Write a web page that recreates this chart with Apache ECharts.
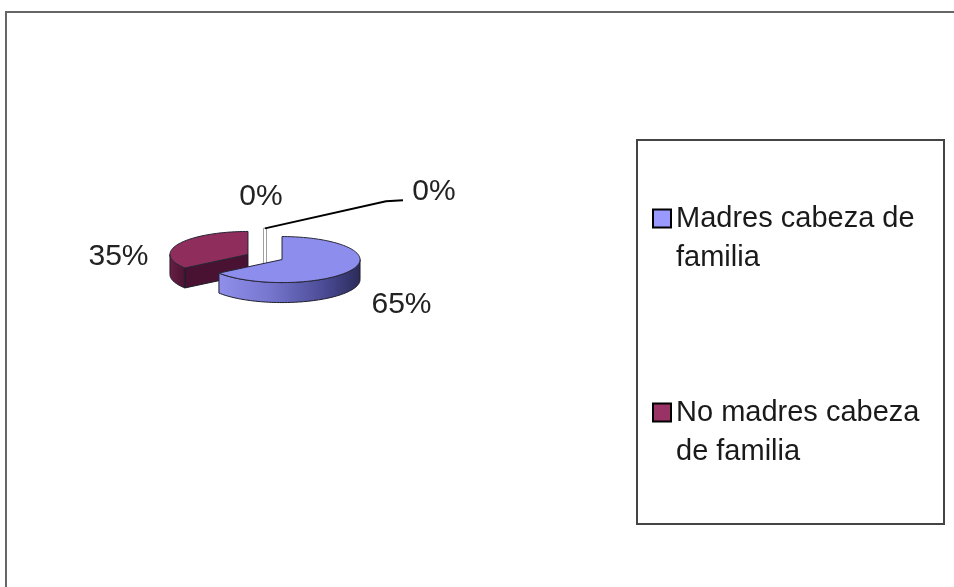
<!DOCTYPE html>
<html>
<head>
<meta charset="utf-8">
<style>
  html, body { margin: 0; padding: 0; background: #fff; }
  #chart { width: 954px; height: 587px; }
</style>
<script src="https://cdn.jsdelivr.net/npm/echarts@6/dist/echarts.min.js"></script>
</head>
<body>
<div id="chart"></div>
<script>
// datos del grafico
var categories = ['Madres cabeza de familia', 'No madres cabeza de familia', '', ''];
var values = [65, 35, 0, 0];
var labels = ['65%', '35%', '0%', '0%'];
var legendNames = ['Madres cabeza de familia', 'No madres cabeza de familia'];

// estilos
var topColors = ['#8d8dee', '#8f2d5c', '#ffffff', '#ffffff'];
var legendColors = ['#9999ff', '#993366', '#ffffff', '#ffffff'];
var sideColors = [
    ['#9090ec', '#7777d0', '#4a4a94', '#2b2b5a'],
    ['#6a1f46', '#5e1a3d', '#521636', '#4a1232']
];
var cutColors = ['#3a3a7a', '#4a1232'];

// geometria de la torta 3D (pie explotado)
var pie = { cx: 265, cy: 257, rx: 78, ry: 23, depth: 20, explode: 0.245 };
// ajuste de las etiquetas respecto al borde de cada porcion
var labelNudge = [[50, 15], [-60, 13], [-4, -32], [169, -37]];
var withLeader = [false, false, false, true];
var fontFamily = '"Liberation Sans", Arial, sans-serif';

var total = values.reduce(function (s, v) { return s + v; }, 0);
var starts = [];
(function () {
    var a = Math.PI / 2;   // Excel empieza a las 12 en punto, sentido horario
    for (var i = 0; i < values.length; i++) {
        starts.push(a);
        a -= values[i] / total * Math.PI * 2;
    }
})();

function frontRanges(lo, hi) {
    var out = [];
    for (var k = -2; k <= 1; k++) {
        var s = Math.max(lo, -Math.PI + 2 * Math.PI * k);
        var e = Math.min(hi, 2 * Math.PI * k);
        if (e > s) out.push([s, e]);
    }
    return out;
}

function makeRender(i) {
    return function (params, api) {
        var value = api.value(0);
        var a0 = starts[i];
        var a1 = a0 - value / total * Math.PI * 2;
        var m = (a0 + a1) / 2;
        var cx = pie.cx + pie.explode * pie.rx * Math.cos(m);
        var cy = pie.cy - pie.explode * pie.ry * Math.sin(m);
        var d = pie.depth;

        function rim(a, down) {
            return [cx + pie.rx * Math.cos(a), cy - pie.ry * Math.sin(a) + (down || 0)];
        }
        function arc(from, to, down) {
            var n = Math.max(2, Math.ceil(Math.abs(from - to) / (Math.PI / 90)));
            var pts = [];
            for (var k = 0; k <= n; k++) pts.push(rim(from + (to - from) * k / n, down));
            return pts;
        }

        var children = [];
        if (value > 0) {
            // caras de corte visibles
            [[a0, Math.cos(a0) < 0], [a1, Math.cos(a1) > 0]].forEach(function (e) {
                if (!e[1]) return;
                var p = rim(e[0]);
                children.push({
                    type: 'polygon',
                    shape: { points: [[cx, cy], p, [p[0], p[1] + d], [cx, cy + d]] },
                    style: { fill: cutColors[i], stroke: '#1e1e2a', lineWidth: 1 }
                });
            });
            // pared lateral (solo la mitad de adelante)
            frontRanges(a1, a0).forEach(function (r) {
                var up = arc(r[0], r[1], 0);
                var down = arc(r[1], r[0], d);
                var st = sideColors[i];
                children.push({
                    type: 'polygon',
                    shape: { points: up.concat(down) },
                    style: {
                        fill: new echarts.graphic.LinearGradient(0, 0, 1, 0, [
                            { offset: 0, color: st[0] },
                            { offset: 0.35, color: st[1] },
                            { offset: 0.75, color: st[2] },
                            { offset: 1, color: st[3] }
                        ]),
                        stroke: '#1e1e2a', lineWidth: 1
                    }
                });
            });
            // cara superior
            children.push({
                type: 'polygon',
                shape: { points: [[cx, cy]].concat(arc(a0, a1, 0)) },
                style: { fill: topColors[i], stroke: '#262636', lineWidth: 1 }
            });
        } else {
            // porcion de 0%: solo se ve la cara de corte
            var t = rim(a0);
            children.push({
                type: 'rect',
                shape: { x: t[0] - 1.5, y: t[1], width: 3, height: cy + d - t[1] },
                style: { fill: '#ffffff', stroke: '#a0a0a0', lineWidth: 1 }
            });
        }

        // etiqueta
        var anchor = rim(m, Math.sin(m) < 0 ? d : 0);
        var lx = anchor[0] + labelNudge[i][0];
        var ly = anchor[1] + labelNudge[i][1];
        if (withLeader[i]) {
            var s0 = rim(m);
            children.push({
                type: 'polyline',
                shape: { points: [s0, [lx - 48, ly + 10], [lx - 31, ly + 9]] },
                style: { stroke: '#000', lineWidth: 2, fill: null }
            });
        }
        children.push({
            type: 'text',
            style: {
                text: labels[i], x: lx, y: ly,
                fill: '#222', font: '30px ' + fontFamily,
                align: 'center', verticalAlign: 'middle'
            }
        });
        return { type: 'group', children: children };
    };
}

var myChart = echarts.init(document.getElementById('chart'));

var series = categories.map(function (name, i) {
    return {
        type: 'custom',
        name: name,
        coordinateSystem: 'none',
        z: i === 0 ? 3 : 2,
        silent: true,
        itemStyle: { color: legendColors[i] },
        data: [values[i]],
        renderItem: makeRender(i)
    };
});

var option = {
    backgroundColor: '#ffffff',
    animation: false,
    graphic: [
        {
            type: 'rect', z: -1,
            shape: { x: 6, y: 12, width: 980, height: 620 },
            style: { fill: null, stroke: '#666', lineWidth: 2 }
        },
        {
            type: 'rect', z: -1,
            shape: { x: 637, y: 140, width: 307, height: 384 },
            style: { fill: null, stroke: '#444', lineWidth: 2 }
        }
    ],
    legend: {
        orient: 'vertical',
        left: 652,
        top: 160,
        padding: 0,
        itemGap: 77,
        itemWidth: 18,
        itemHeight: 18,
        icon: 'rect',
        selectedMode: false,
        data: legendNames.map(function (n, i) {
            return { name: n, itemStyle: { color: legendColors[i], borderColor: '#000', borderWidth: 2 } };
        }),
        // linea vacia arriba para que el cuadrito quede alineado con la primera linea
        formatter: function (name) { return '\n' + name; },
        textStyle: {
            fontFamily: fontFamily,
            fontSize: 29,
            color: '#1a1a1a',
            lineHeight: 39,
            width: 255,
            overflow: 'break'
        }
    },
    series: series
};

myChart.setOption(option);

window.onresize = function () {
    myChart.resize();
};
</script>
</body>
</html>
